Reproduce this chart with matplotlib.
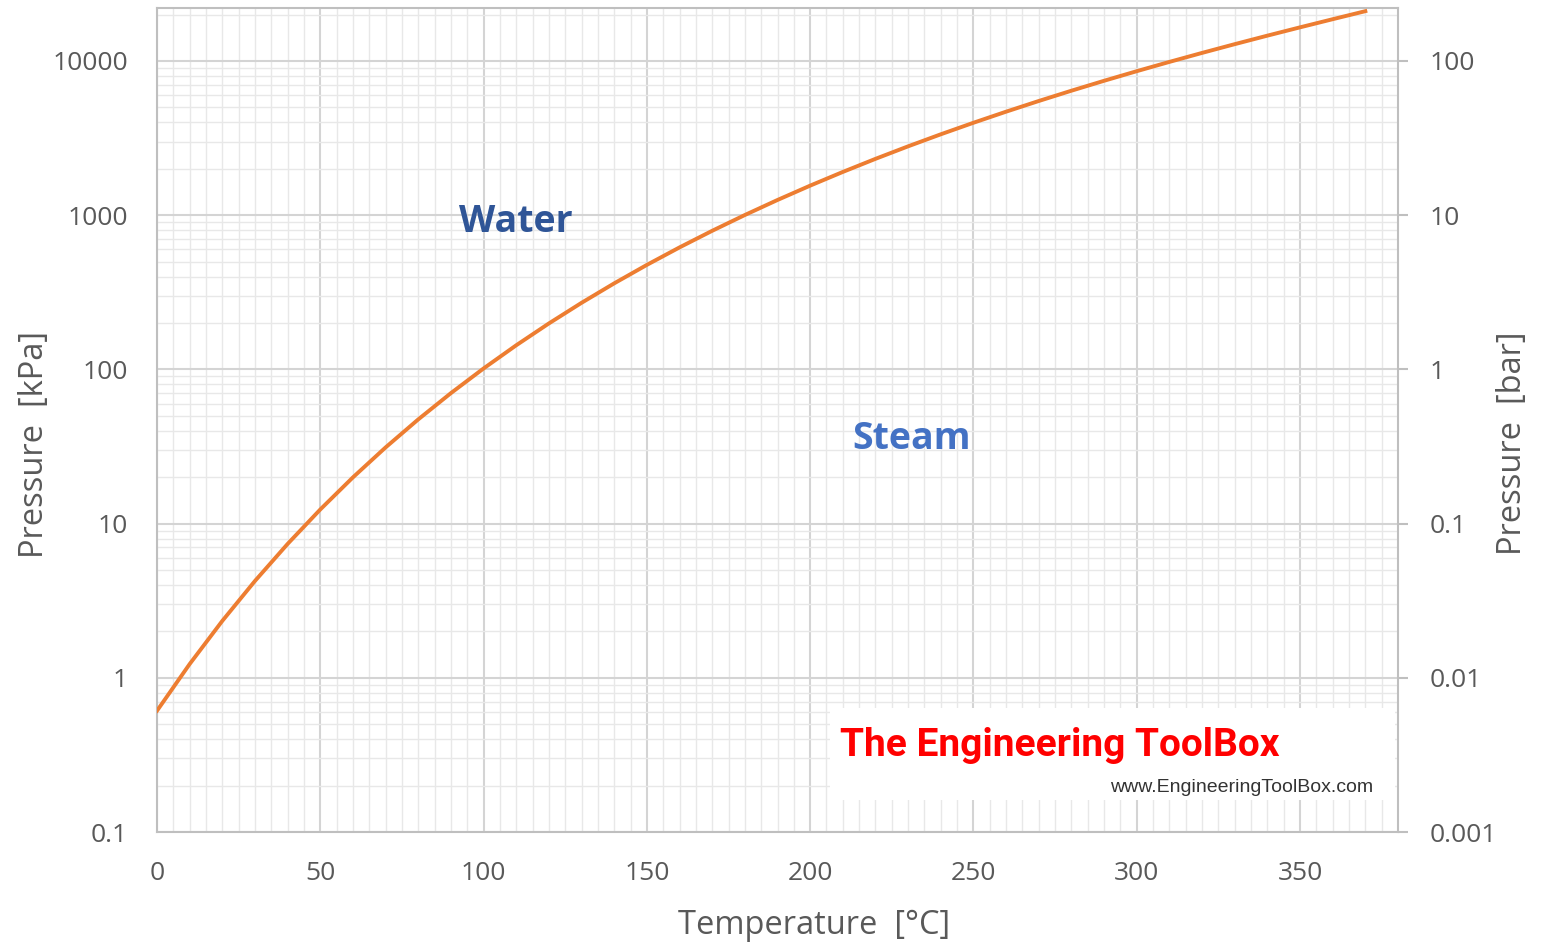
import matplotlib
matplotlib.use("Agg")
import matplotlib.pyplot as plt
from matplotlib.ticker import FixedLocator, LogLocator, NullFormatter, MultipleLocator
from matplotlib.patches import Rectangle

# Saturation temperature [°C] and pressure [kPa]
temperature = [0.01, 10, 20, 30, 40, 50, 60, 70, 80, 90, 100, 110, 120, 130, 140,
               150, 160, 170, 180, 190, 200, 210, 220, 230, 240, 250, 260, 270,
               280, 290, 300, 310, 320, 330, 340, 350, 360, 370]
pressure_kpa = [0.6117, 1.228, 2.339, 4.247, 7.385, 12.35, 19.95, 31.20, 47.41,
                70.18, 101.42, 143.38, 198.67, 270.28, 361.5, 476.2, 618.2, 792.2,
                1002.8, 1255.2, 1554.9, 1907.7, 2319.6, 2797.0, 3347.0, 3976.0,
                4692.0, 5503.0, 6417.0, 7442.0, 8588.0, 9865.0, 11284.0, 12858.0,
                14601.0, 16529.0, 18666.0, 21044.0]
x_ticks = [0, 50, 100, 150, 200, 250, 300, 350]
y_ticks_kpa = [0.1, 1, 10, 100, 1000, 10000]
y_labels_kpa = ["0.1", "1", "10", "100", "1000", "10000"]
y_ticks_bar = [0.001, 0.01, 0.1, 1, 10, 100]
y_labels_bar = ["0.001", "0.01", "0.1", "1", "10", "100"]

plt.rcParams['font.family'] = ['Open Sans', 'DejaVu Sans']
txt = '#595959'
W, H = 1541, 944
L, R, T, B = 157, 1398, 8, 832

fig = plt.figure(figsize=(W/100, H/100), dpi=100)
ax = fig.add_axes([L/W, 1 - B/H, (R-L)/W, (B-T)/H])

def axx(px):
    return (px - L) / (R - L)

def axy(py):
    return (B - py) / (B - T)

ymin, ymax = 0.1, 22064
ax.set_xlim(0, 380)
ax.set_yscale('log')
ax.set_ylim(ymin, ymax)

ax.xaxis.set_major_locator(FixedLocator(x_ticks))
ax.xaxis.set_minor_locator(MultipleLocator(5))
ax.yaxis.set_major_locator(FixedLocator(y_ticks_kpa))
ax.yaxis.set_minor_locator(LogLocator(base=10, subs=range(2, 10)))
ax.yaxis.set_minor_formatter(NullFormatter())
ax.set_yticklabels(y_labels_kpa)
ax.set_xticklabels([str(t) for t in x_ticks])

ax.grid(which='major', color='#d4d4d4', lw=1.5, zorder=0)
ax.grid(which='minor', color='#e8e8e8', lw=1.0, zorder=0)
ax.set_axisbelow(True)
for s in ax.spines.values():
    s.set_color('#bfbfbf')
    s.set_linewidth(1.5)

ax.tick_params(axis='both', which='both', length=0, colors=txt, labelsize=19)
ax.tick_params(axis='x', pad=21)
ax.tick_params(axis='y', pad=21)

ax.plot(temperature, pressure_kpa, color='#ED7D31', lw=2.8, zorder=5)

ax.set_xlabel("Temperature  [°C]", fontsize=23.5, color=txt)
ax.xaxis.set_label_coords(axx(814), axy(925))
ax.xaxis.label.set_va('center')
ax.set_ylabel("Pressure  [kPa]", fontsize=23.5, color=txt)
ax.yaxis.set_label_coords(axx(35), axy(445))
ax.yaxis.label.set_va('center')

ax2 = ax.twinx()
ax2.set_yscale('log')
ax2.set_ylim(ymin / 100, ymax / 100)
ax2.yaxis.set_major_locator(FixedLocator(y_ticks_bar))
ax2.yaxis.set_minor_locator(LogLocator(base=10, subs=range(2, 10)))
ax2.yaxis.set_minor_formatter(NullFormatter())
ax2.set_yticklabels(y_labels_bar)
ax2.tick_params(axis='y', which='major', length=7, width=1.5, color='#bfbfbf',
                labelcolor=txt, labelsize=19, pad=16)
ax2.tick_params(axis='y', which='minor', length=0)
for s in ax2.spines.values():
    s.set_visible(False)
ax2.set_ylabel("Pressure  [bar]", fontsize=23.5, color=txt, rotation=90)
ax2.yaxis.set_label_coords(axx(1513), axy(443))
ax2.yaxis.label.set_va('center')

ax.text(110, 900, "Water", fontsize=27, fontweight='bold', color='#2F5597',
        ha='center', va='center', zorder=6)
ax.text(231, 35.6, "Steam", fontsize=27, fontweight='bold', color='#4472C4',
        ha='center', va='center', zorder=6)

# watermark box
ax.add_patch(Rectangle((axx(830), axy(800)), axx(1395) - axx(830), axy(708) - axy(800),
                       transform=ax.transAxes, facecolor='white', edgecolor='none', zorder=3))
ax.text(axx(840), axy(745), "The Engineering ToolBox", transform=ax.transAxes,
        fontsize=28, fontweight='bold', color='#FF0000', ha='left', va='center',
        family=['Roboto', 'DejaVu Sans'], zorder=4)
ax.text(axx(1373), axy(787), "www.EngineeringToolBox.com", transform=ax.transAxes,
        fontsize=14, color='#333333', ha='right', va='center',
        family=['Liberation Sans', 'DejaVu Sans'], zorder=4)

fig.savefig("out.png", dpi=100, facecolor='white')
